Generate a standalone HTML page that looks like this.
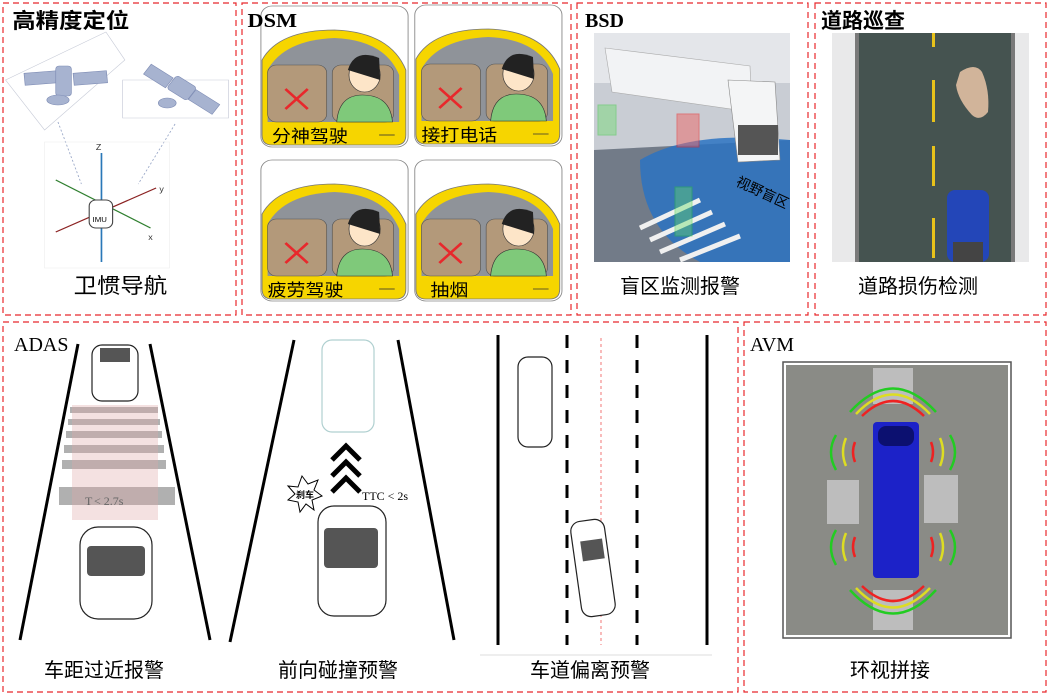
<!DOCTYPE html>
<html><head><meta charset="utf-8"><style>
html,body{margin:0;padding:0;background:#fff;}
svg{display:block}
.cn{font-family:"Liberation Sans","Noto Sans CJK SC",sans-serif;}
.sr{font-family:"Liberation Serif","Noto Serif CJK SC",serif;}
</style></head><body>
<svg width="1051" height="697" viewBox="0 0 1051 697" xmlns="http://www.w3.org/2000/svg">
<g fill="none" stroke="#e8282c" stroke-width="1.2" stroke-dasharray="6,4">
<rect x="3" y="3" width="233" height="312"/>
<rect x="242" y="3" width="329" height="312"/>
<rect x="577" y="3" width="231" height="312"/>
<rect x="815" y="3" width="231" height="312"/>
<rect x="3" y="322" width="735" height="370"/>
<rect x="744" y="322" width="302" height="370"/>
</g>
<g transform="scale(1.115,1)">
<!-- panel 1 -->
<text x="11" y="28" class="cn" font-size="21" font-weight="bold">高精度定位</text>
<g stroke="#c8ccd8" stroke-width="0.6" fill="none"><path d="M5 80 L95 32 L112 60 L40 130 Z"/><path d="M110 80 L205 80 L205 118 L110 118 Z"/></g>
<g fill="#a7b3d0" stroke="#7f8db5" stroke-width="0.6">
<rect x="22" y="72" width="30" height="12" transform="rotate(-5 37 78)"/><rect x="66" y="72" width="30" height="12" transform="rotate(-5 81 78)"/>
<rect x="50" y="66" width="14" height="30" rx="3"/><ellipse cx="52" cy="100" rx="10" ry="5"/>
<rect x="130" y="70" width="24" height="12" transform="rotate(35 142 76)"/><rect x="170" y="96" width="26" height="12" transform="rotate(35 183 102)"/>
<rect x="152" y="80" width="22" height="16" transform="rotate(35 163 88)" rx="3"/><ellipse cx="150" cy="103" rx="8" ry="5"/>
</g>
<g stroke="#9aa8c8" stroke-dasharray="2,2" stroke-width="0.8"><line x1="52" y1="122" x2="73" y2="184"/><line x1="157" y1="124" x2="124" y2="184"/></g>
<rect x="40" y="142" width="112" height="126" fill="none" stroke="#eee" stroke-width="0.6"/>
<line x1="91" y1="153" x2="91" y2="262" stroke="#2a78b8" stroke-width="1.5"/>
<line x1="50" y1="180" x2="135" y2="228" stroke="#2f7f2f" stroke-width="1.2"/>
<line x1="50" y1="232" x2="140" y2="188" stroke="#8b2222" stroke-width="1.2"/>
<rect x="80" y="200" width="21" height="28" rx="6" fill="#fff" stroke="#444"/>
<text x="83" y="222" font-size="7" font-family="Liberation Sans">IMU</text>
<text x="86" y="150" font-size="8" font-family="Liberation Sans" fill="#333">Z</text>
<text x="143" y="192" font-size="8" font-family="Liberation Sans" fill="#333">y</text>
<text x="133" y="240" font-size="8" font-family="Liberation Sans" fill="#333">x</text>
<text x="66" y="293" class="cn" font-size="21">卫惯导航</text>
<!-- DSM -->
<g id="c1">
<rect x="234" y="6" width="132" height="141" rx="10" fill="#fff" stroke="#888" stroke-width="0.8"/>
<path d="M235 130 L235 60 Q250 30 300 30 Q350 32 364 70 L364 135 Q364 145 355 145 L244 145 Q235 145 235 135 Z" fill="#f6d500" stroke="#777" stroke-width="0.8"/>
<path d="M240 122 L240 70 Q255 40 300 38 Q345 40 358 75 L358 122 Z" fill="#8f9399"/>
<rect x="240" y="65" width="53" height="57" rx="8" fill="#b3997a" stroke="#555" stroke-width="0.6"/>
<rect x="298" y="65" width="55" height="57" rx="8" fill="#b3997a" stroke="#555" stroke-width="0.6"/>
<path d="M302 122 Q304 95 325 95 Q350 95 352 122 Z" fill="#7fc97a" stroke="#333" stroke-width="0.6"/>
<ellipse cx="327" cy="75" rx="14" ry="17" fill="#fde5c8" stroke="#333" stroke-width="0.6"/>
<path d="M312 70 Q318 48 340 58 L341 80 Z" fill="#222"/>
<path d="M256 89 L276 109 M276 89 L256 109" stroke="#e8282c" stroke-width="2.5"/>
<line x1="340" y1="135" x2="354" y2="135" stroke="#333" stroke-width="0.8"/>
</g>
<text x="244" y="142" class="cn" font-size="17">分神驾驶</text>
<use href="#c1" transform="translate(138,-1)"/>
<text x="378" y="141" class="cn" font-size="17">接打电话</text>
<use href="#c1" transform="translate(0,154)"/>
<text x="240" y="296" class="cn" font-size="17">疲劳驾驶</text>
<use href="#c1" transform="translate(138,154)"/>
<text x="386" y="296" class="cn" font-size="17">抽烟</text>
<text x="222" y="27" class="sr" font-size="20" font-weight="bold">DSM</text>
</g>
<!-- BSD -->
<text x="585" y="27" class="sr" font-size="20" font-weight="bold">BSD</text>
<rect x="594" y="33" width="196" height="229" fill="#c9cdd4"/>
<rect x="594" y="33" width="196" height="50" fill="#e4e6ea"/>
<path d="M594 150 L790 140 L790 262 L594 262 Z" fill="#727b88"/>
<path d="M640 160 Q690 130 790 140 L790 262 L700 262 Q640 230 640 160 Z" fill="#2b73c2" opacity="0.85"/>
<path d="M605 48 L750 66 L752 112 L612 92 Z" fill="#f2f3f5" stroke="#aaa" stroke-width="0.6"/>
<path d="M728 80 L775 82 L780 160 L738 162 Z" fill="#f4f5f6" stroke="#888" stroke-width="0.6"/>
<rect x="738" y="125" width="40" height="30" fill="#555"/>
<g stroke="#f0f0f0" stroke-width="5"><line x1="640" y1="228" x2="700" y2="200"/><line x1="650" y1="240" x2="712" y2="212"/><line x1="660" y1="252" x2="725" y2="224"/><line x1="680" y1="260" x2="740" y2="236"/></g>
<rect x="677" y="114" width="22" height="33" fill="#e66" opacity="0.5" stroke="#e22"/>
<rect x="675" y="187" width="17" height="49" fill="#6d6" opacity="0.4" stroke="#2c2"/>
<rect x="598" y="105" width="18" height="30" fill="#6d6" opacity="0.4" stroke="#2c2"/>
<text x="735" y="185" class="cn" font-size="14" transform="rotate(25 735 185)">视野盲区</text>
<text x="620" y="293" class="cn" font-size="20">盲区监测报警</text>
<!-- road -->
<text x="821" y="28" class="cn" font-size="21" font-weight="bold">道路巡查</text>
<rect x="832" y="33" width="197" height="229" fill="#e9e9ea"/>
<path d="M858 33 L1012 33 L1012 262 L858 262 Z" fill="#455350"/>
<g fill="#7a7a7a"><rect x="855" y="33" width="4" height="229"/><rect x="1011" y="33" width="4" height="229"/></g>
<g fill="#e8c21a"><rect x="932" y="33" width="3" height="14"/><rect x="932" y="80" width="3" height="42"/><rect x="932" y="146" width="3" height="40"/><rect x="932" y="218" width="3" height="40"/></g>
<path d="M960 72 Q975 62 982 72 Q990 90 988 112 Q980 122 972 115 Q958 100 956 85 Z" fill="#d1b49a"/>
<rect x="947" y="190" width="42" height="72" rx="8" fill="#2346b8"/>
<rect x="953" y="242" width="30" height="20" fill="#444"/>
<text x="858" y="293" class="cn" font-size="20">道路损伤检测</text>
<!-- ADAS -->
<text x="14" y="351" class="sr" font-size="20">ADAS</text>
<g stroke="#000" stroke-width="3"><line x1="78" y1="344" x2="20" y2="640"/><line x1="150" y1="344" x2="210" y2="640"/>
<line x1="294" y1="340" x2="230" y2="642"/><line x1="398" y1="340" x2="454" y2="640"/>
<line x1="498" y1="335" x2="498" y2="645"/><line x1="707" y1="335" x2="707" y2="645"/></g>
<g stroke="#000" stroke-width="3" stroke-dasharray="13,12"><line x1="567" y1="335" x2="567" y2="645"/><line x1="637" y1="335" x2="637" y2="645"/></g>
<line x1="601" y1="338" x2="601" y2="645" stroke="#e55" stroke-width="0.8" stroke-dasharray="3,3"/>
<g fill="#b0b0b0"><rect x="70" y="407" width="88" height="6"/><rect x="68" y="419" width="92" height="6"/><rect x="66" y="431" width="96" height="7"/><rect x="64" y="445" width="100" height="8"/><rect x="62" y="460" width="104" height="9"/><rect x="59" y="487" width="116" height="18"/></g>
<rect x="72" y="405" width="86" height="115" fill="#e0a8a8" opacity="0.35"/>
<text x="85" y="505" class="sr" font-size="12" fill="#666">T</text><text x="94" y="505" class="sr" font-size="12" fill="#666">&lt; 2.7s</text>
<g fill="#fff" stroke="#222" stroke-width="1.2">
<rect x="92" y="345" width="46" height="56" rx="10"/><rect x="80" y="527" width="72" height="92" rx="18"/>
<rect x="318" y="506" width="68" height="110" rx="16"/><rect x="518" y="357" width="34" height="90" rx="10"/>
<rect x="576" y="520" width="34" height="96" rx="10" transform="rotate(-8 593 568)"/></g>
<g fill="#555"><rect x="87" y="546" width="58" height="30" rx="4"/><rect x="324" y="528" width="54" height="40" rx="4"/><rect x="584" y="540" width="22" height="20" transform="rotate(-8 593 568)"/><rect x="100" y="348" width="30" height="14"/></g>
<rect x="322" y="340" width="52" height="92" rx="10" fill="#fff" stroke="#b0d0d0" stroke-width="1.2"/>
<g fill="none" stroke="#000" stroke-width="5"><path d="M332 460 L346 446 L360 460"/><path d="M332 476 L346 462 L360 476"/><path d="M332 492 L346 478 L360 492"/></g>
<polygon points="302,476 308,484 318,480 314,490 322,496 312,500 314,510 306,504 300,512 298,502 288,500 295,494 288,486 298,487" fill="#fff" stroke="#000"/>
<text x="296" y="498" class="cn" font-size="9" font-weight="bold">刹车</text>
<text x="362" y="500" class="sr" font-size="12">TTC &lt; 2s</text>
<line x1="480" y1="655" x2="712" y2="655" stroke="#ddd"/>
<text x="44" y="677" class="cn" font-size="20">车距过近报警</text>
<text x="278" y="677" class="cn" font-size="20">前向碰撞预警</text>
<text x="530" y="677" class="cn" font-size="20">车道偏离预警</text>
<!-- AVM -->
<text x="750" y="351" class="sr" font-size="20">AVM</text>
<rect x="783" y="362" width="228" height="276" fill="#fff" stroke="#555" stroke-width="1.5"/>
<rect x="786" y="365" width="222" height="270" fill="#8a8b86"/>
<g fill="#bdbdbd"><rect x="873" y="368" width="40" height="36"/><rect x="827" y="480" width="32" height="44"/><rect x="924" y="475" width="34" height="48"/><rect x="873" y="590" width="40" height="40"/></g>
<g fill="none" stroke-width="2.5">
<path d="M850 412 Q893 365 936 412" stroke="#2c2"/><path d="M856 414 Q893 375 930 414" stroke="#dd2"/><path d="M862 416 Q893 386 924 416" stroke="#e22"/>
<path d="M850 590 Q893 637 936 590" stroke="#2c2"/><path d="M856 588 Q893 627 930 588" stroke="#dd2"/><path d="M862 586 Q893 616 924 586" stroke="#e22"/>
<path d="M836 435 Q826 452 836 470" stroke="#2c2"/><path d="M846 438 Q840 452 846 466" stroke="#dd2"/><path d="M855 442 Q851 452 855 462" stroke="#e22"/>
<path d="M950 435 Q960 452 950 470" stroke="#2c2"/><path d="M940 438 Q946 452 940 466" stroke="#dd2"/><path d="M931 442 Q935 452 931 462" stroke="#e22"/>
<path d="M836 530 Q826 547 836 565" stroke="#2c2"/><path d="M846 533 Q840 547 846 561" stroke="#dd2"/><path d="M855 537 Q851 547 855 557" stroke="#e22"/>
<path d="M950 530 Q960 547 950 565" stroke="#2c2"/><path d="M940 533 Q946 547 940 561" stroke="#dd2"/><path d="M931 537 Q935 547 931 557" stroke="#e22"/>
</g>
<rect x="873" y="422" width="46" height="156" rx="4" fill="#1c22c8"/>
<rect x="878" y="426" width="36" height="20" rx="8" fill="#0c1070"/>
<text x="850" y="677" class="cn" font-size="20">环视拼接</text>
</svg>
</body></html>
